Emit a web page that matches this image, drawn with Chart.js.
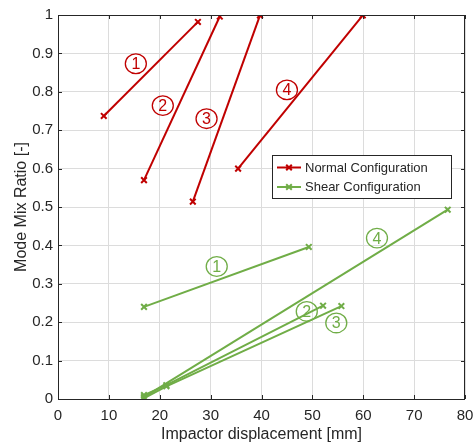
<!DOCTYPE html>
<html lang="en">
<head>
<meta charset="UTF-8">
<title>Mode Mix Ratio</title>
<script src="https://cdn.jsdelivr.net/npm/chart.js"></script>
<style>
  html, body { margin: 0; padding: 0; background: #fff; }
  #wrap { width: 475px; height: 444px; }
</style>
</head>
<body>
<div id="wrap"><canvas id="mmr"></canvas></div>
<script>
// impactor displacement [mm] / mode mix ratio for each numbered specimen
const normalX = [[9.0, 27.5], [16.9, 31.8], [26.5, 39.7], [35.4, 59.9]];
const normalY = [[0.737, 0.982], [0.570, 0.996], [0.514, 0.999], [0.600, 0.999]];
const shearX = [[16.9, 49.3], [16.9, 21.3, 52.1], [16.9, 21.3, 55.7], [16.9, 76.6]];
const shearY = [[0.240, 0.396], [0.010, 0.036, 0.243], [0.002, 0.033, 0.242], [0.005, 0.493]];

const seriesNames = ['Normal Configuration', 'Shear Configuration'];
const xTicks = [0, 10, 20, 30, 40, 50, 60, 70, 80];

// specimen numbers, circled, placed in data units
const normalTags = ['1', '2', '3', '4'];
const normalTagX = [15.3, 20.6, 29.2, 45.0];
const normalTagY = [0.873, 0.764, 0.730, 0.805];
const shearTags = ['1', '2', '3', '4'];
const shearTagX = [31.2, 48.9, 54.7, 62.7];
const shearTagY = [0.345, 0.228, 0.198, 0.419];

const RED = '#c00000';
const GREEN = '#70ad47';
const INK = '#262626';
const FONT = '"Liberation Sans", Arial, sans-serif';

function makeSet(xs, ys, color, name) {
  return {
    label: name,
    data: xs.map((x, i) => ({ x: x, y: ys[i] })),
    showLine: true,
    borderColor: color,
    backgroundColor: color,
    borderWidth: 2,
    pointStyle: 'crossRot',
    pointRadius: 4,
    pointBorderWidth: 2,
    pointHoverRadius: 4
  };
}

const datasets = [];
normalX.forEach((xs, i) => datasets.push(makeSet(xs, normalY[i], RED, seriesNames[0])));
shearX.forEach((xs, i) => datasets.push(makeSet(xs, shearY[i], GREEN, seriesNames[1])));

function circledTag(ctx, text, px, py, color) {
  ctx.strokeStyle = color;
  ctx.fillStyle = color;
  ctx.lineWidth = 1.3;
  ctx.beginPath();
  ctx.ellipse(px, py, 10.5, 9.8, 0, 0, Math.PI * 2);
  ctx.stroke();
  ctx.font = '16px ' + FONT;
  ctx.fillText(text, px, py + 1);
}

// box, inward ticks, circled labels and legend box
const decor = {
  id: 'decor',
  afterDatasetsDraw(chart) {
    const ctx = chart.ctx;
    const a = chart.chartArea;
    const xs = chart.scales.x, ys = chart.scales.y;
    ctx.save();

    ctx.textAlign = 'center';
    ctx.textBaseline = 'middle';
    normalTags.forEach((t, i) => circledTag(ctx, t, xs.getPixelForValue(normalTagX[i]), ys.getPixelForValue(normalTagY[i]), RED));
    shearTags.forEach((t, i) => circledTag(ctx, t, xs.getPixelForValue(shearTagX[i]), ys.getPixelForValue(shearTagY[i]), GREEN));

    // axes box
    ctx.strokeStyle = INK;
    ctx.lineWidth = 1;
    ctx.strokeRect(a.left + 0.5, a.top + 0.5, a.right - a.left - 1, a.bottom - a.top);

    const tl = 4;
    ctx.beginPath();
    xTicks.forEach(v => {
      const px = Math.round(xs.getPixelForValue(v)) + 0.5;
      ctx.moveTo(px, a.bottom); ctx.lineTo(px, a.bottom - tl);
      ctx.moveTo(px, a.top); ctx.lineTo(px, a.top + tl);
    });
    for (let k = 0; k <= 10; k++) {
      const py = Math.round(ys.getPixelForValue(k / 10)) + 0.5;
      ctx.moveTo(a.left, py); ctx.lineTo(a.left + tl, py);
      ctx.moveTo(a.right, py); ctx.lineTo(a.right - tl, py);
    }
    ctx.stroke();

    // legend
    const bx = a.right - 193, by = 155, bw = 179, bh = 43;
    ctx.fillStyle = '#fff';
    ctx.fillRect(bx, by, bw, bh);
    ctx.strokeStyle = '#262626';
    ctx.lineWidth = 1;
    ctx.strokeRect(bx + 0.5, by + 0.5, bw, bh);
    [RED, GREEN].forEach((c, i) => {
      const ry = by + 12.5 + i * 19.5;
      ctx.strokeStyle = c;
      ctx.lineWidth = 2;
      ctx.beginPath();
      ctx.moveTo(bx + 5, ry); ctx.lineTo(bx + 29, ry);
      const mx = bx + 17, r = 2.8;
      ctx.moveTo(mx - r, ry - r); ctx.lineTo(mx + r, ry + r);
      ctx.moveTo(mx - r, ry + r); ctx.lineTo(mx + r, ry - r);
      ctx.stroke();
      ctx.fillStyle = INK;
      ctx.font = '13px ' + FONT;
      ctx.textAlign = 'left';
      ctx.fillText(seriesNames[i], bx + 33, ry + 0.5);
    });
    ctx.restore();
  }
};

new Chart(document.getElementById('mmr'), {
  type: 'scatter',
  data: { datasets: datasets },
  options: {
    responsive: true,
    maintainAspectRatio: false,
    animation: false,
    layout: { padding: { top: 15, right: 10, left: 8, bottom: 0 } },
    plugins: { legend: { display: false }, tooltip: { enabled: false } },
    scales: {
      x: {
        type: 'linear',
        min: 0, max: 80,
        afterBuildTicks: s => { s.ticks = xTicks.map(v => ({ value: v })); },
        afterFit: s => { s.height = 45; s.paddingLeft = 0; s.paddingRight = 0; },
        grid: { color: '#dcdcdc', drawTicks: false },
        border: { display: false },
        ticks: { color: INK, font: { family: FONT, size: 15 }, padding: 8, maxRotation: 0 },
        title: { display: true, text: 'Impactor displacement [mm]', color: INK, font: { family: FONT, size: 16 }, padding: { top: 0, bottom: 0 } }
      },
      y: {
        min: 0, max: 1,
        ticks: {
          stepSize: 0.1, color: INK, font: { family: FONT, size: 15 }, padding: 5,
          callback: v => String(Math.round(v * 10) / 10)
        },
        afterFit: s => { s.width = 50; s.paddingTop = 0; s.paddingBottom = 0; },
        grid: { color: '#dcdcdc', drawTicks: false },
        border: { display: false },
        title: { display: true, text: 'Mode Mix Ratio [-]', color: INK, font: { family: FONT, size: 16 }, padding: { top: 4, bottom: 0 } }
      }
    }
  },
  plugins: [decor]
});
</script>
</body>
</html>
